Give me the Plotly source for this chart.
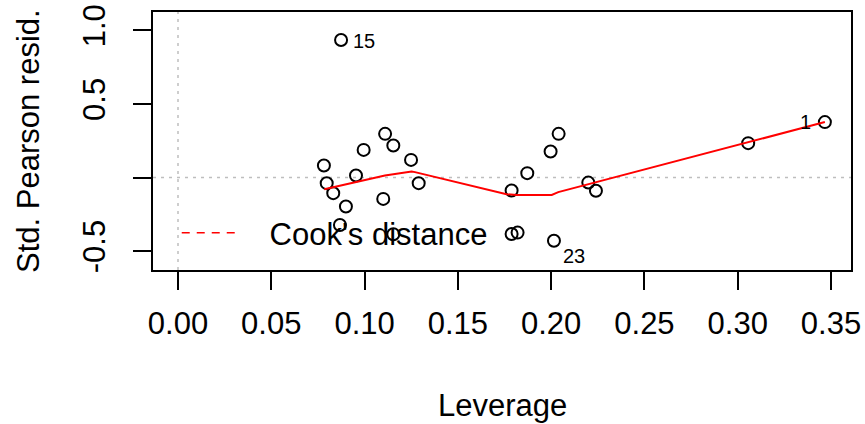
import plotly.graph_objects as go

# Residuals vs Leverage data
leverage = [0.3467, 0.0874, 0.2015, 0.0782, 0.0797, 0.0832, 0.0900, 0.0868,
            0.0954, 0.0995, 0.1110, 0.1154, 0.1100, 0.1249, 0.1290, 0.1154,
            0.1788, 0.1872, 0.1997, 0.2040, 0.1788, 0.1820, 0.2199, 0.2240,
            0.3056]
std_resid = [0.377, 0.935, -0.429, 0.082, -0.038, -0.106, -0.197, -0.322,
             0.014, 0.188, 0.297, 0.218, -0.145, 0.120, -0.038, -0.385,
             -0.088, 0.030, 0.177, 0.297, -0.383, -0.374, -0.034, -0.090,
             0.234]
point_ids = ["1", "15", "23"]  # labels of the first three points above

# smoother (red line) vertices
smooth_x = [0.0784, 0.0913, 0.1002, 0.1109, 0.1252, 0.1270, 0.1761, 0.1815,
            0.2003, 0.2038, 0.3467]
smooth_y = [-0.079, -0.043, -0.020, 0.014, 0.041, 0.037, -0.113, -0.118,
            -0.118, -0.099, 0.377]

x_ticks = [0.00, 0.05, 0.10, 0.15, 0.20, 0.25, 0.30, 0.35]
x_ticktext = ["0.00", "0.05", "0.10", "0.15", "0.20", "0.25", "0.30", "0.35"]
y_ticks = [-0.5, 0.0, 0.5, 1.0]
y_ticktext = ["-0.5", "", "0.5", "1.0"]

FONT = "Liberation Sans, Arial, Helvetica, sans-serif"
FS = 31

fig = go.Figure()

fig.add_hline(y=0, line=dict(color="#bebebe", width=1.5, dash="3px,5px"), layer="below")
fig.add_vline(x=0, line=dict(color="#bebebe", width=1.5, dash="3px,5px"), layer="below")

fig.add_trace(go.Scatter(
    x=leverage, y=std_resid, mode="markers", showlegend=False,
    marker=dict(symbol="circle-open", size=12, color="black", line=dict(width=2)),
    hoverinfo="x+y"))

fig.add_trace(go.Scatter(
    x=smooth_x, y=smooth_y, mode="lines", showlegend=False,
    line=dict(color="#ff0000", width=2)))

# legend entry only
fig.add_trace(go.Scatter(
    x=[None], y=[None], mode="lines", name="\u00a0\u00a0\u00a0Cook's distance",
    line=dict(color="#ff0000", width=1.5, dash="8px,7px")))

# point id labels
label_shift = {"1": dict(xanchor="right", xshift=-12, yshift=0),
               "15": dict(xanchor="left", xshift=10, yshift=-1),
               "23": dict(xanchor="left", xshift=7, yshift=-15)}
for i, lab in enumerate(point_ids):
    s = label_shift[lab]
    fig.add_annotation(x=leverage[i], y=std_resid[i], text=lab, showarrow=False,
                       xanchor=s["xanchor"], yanchor="middle",
                       xshift=s["xshift"], yshift=s["yshift"],
                       font=dict(family=FONT, size=20, color="black"))

# axis titles
fig.add_annotation(xref="paper", yref="paper", x=0.5, y=0, yanchor="middle",
                   yshift=-135, text="Leverage", showarrow=False,
                   font=dict(family=FONT, size=FS, color="black"))
fig.add_annotation(xref="paper", yref="paper", x=0, y=0.5, xanchor="center",
                   xshift=-125, text="Std. Pearson resid.", showarrow=False,
                   textangle=-90, font=dict(family=FONT, size=FS, color="black"))

fig.update_layout(
    width=865, height=424,
    margin=dict(l=153, r=14, t=12, b=154, autoexpand=False),
    paper_bgcolor="white", plot_bgcolor="white",
    font=dict(family=FONT, size=FS, color="black"),
    showlegend=True,
    legend=dict(x=0.034, y=0.143, xanchor="left", yanchor="middle",
                bgcolor="rgba(0,0,0,0)", itemwidth=57,
                font=dict(family=FONT, size=FS, color="black"),
                tracegroupgap=0),
)

fig.update_xaxes(range=[-0.0134, 0.3607], tickvals=x_ticks, ticktext=x_ticktext,
                 showgrid=False, zeroline=False, showline=True, mirror=True,
                 linecolor="black", linewidth=2, ticks="outside", ticklen=18,
                 tickwidth=1.5, tickcolor="black", ticklabelstandoff=7,
                 automargin=False,
                 tickfont=dict(family=FONT, size=FS, color="black"))
fig.update_yaxes(range=[-0.628, 1.125], tickvals=y_ticks, ticktext=y_ticktext,
                 showgrid=False, zeroline=False, showline=True, mirror=True,
                 linecolor="black", linewidth=2, ticks="outside", ticklen=18,
                 tickwidth=1.5, tickcolor="black", tickangle=-90,
                 ticklabelstandoff=16, automargin=False,
                 tickfont=dict(family=FONT, size=FS, color="black"))

fig.write_html("out.html")
